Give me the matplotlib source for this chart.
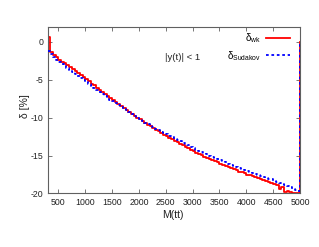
import numpy as np
import matplotlib
matplotlib.use("Agg")
import matplotlib.pyplot as plt
from matplotlib.lines import Line2D

plt.rcParams['font.family'] = ['Liberation Sans', 'DejaVu Sans']
plt.rcParams['axes.unicode_minus'] = False
plt.rcParams['mathtext.fontset'] = 'custom'
plt.rcParams['mathtext.rm'] = 'Liberation Sans'
plt.rcParams['mathtext.it'] = 'Liberation Sans:italic'

# bin edges of M(tt) in GeV
edges = np.arange(300, 5001, 50)

delta_wk = [0.6, -1.3, -1.7, -2.05, -2.35, -2.6, -2.85, -3.1, -3.35, -3.6,
            -3.85, -4.15, -4.4, -4.65, -4.95, -5.2, -5.5, -5.75, -6.05, -6.3,
            -6.6, -6.85, -7.15, -7.4, -7.65, -7.9, -8.2, -8.45, -8.7, -8.95,
            -9.25, -9.5, -9.75, -10.0, -10.2, -10.45, -10.7, -10.9, -11.15, -11.4,
            -11.6, -11.8, -12.05, -12.25, -12.45, -12.65, -12.85, -13.05, -13.25, -13.45,
            -13.65, -13.85, -14.05, -14.25, -14.45, -14.6, -14.8, -14.95, -15.15, -15.3,
            -15.45, -15.6, -15.75, -15.9, -16.05, -16.2, -16.35, -16.5, -16.65, -16.8,
            -16.95, -17.1, -17.2, -17.35, -17.5, -17.6, -17.75, -17.85, -18.0, -18.1,
            -18.25, -18.35, -18.5, -18.6, -18.75, -18.85, -19.35, -19.1, -19.75, -19.7,
            -19.8, -20.0, -20.0, -19.95]

delta_sudakov = [-1.2, -1.6, -2.05, -2.4, -2.7, -2.95, -3.2, -3.45, -3.7, -3.95,
                 -4.2, -4.5, -4.75, -5.0, -5.3, -5.55, -5.8, -6.05, -6.35, -6.6,
                 -6.9, -7.15, -7.4, -7.65, -7.85, -8.1, -8.35, -8.6, -8.85, -9.05,
                 -9.3, -9.55, -9.8, -10.0, -10.2, -10.45, -10.65, -10.85, -11.05, -11.25,
                 -11.45, -11.65, -11.85, -12.05, -12.2, -12.4, -12.6, -12.75, -12.95, -13.1,
                 -13.3, -13.5, -13.65, -13.85, -14.0, -14.2, -14.35, -14.5, -14.7, -14.85,
                 -15.0, -15.15, -15.3, -15.45, -15.6, -15.75, -15.9, -16.05, -16.2, -16.35,
                 -16.5, -16.6, -16.75, -16.9, -17.05, -17.15, -17.3, -17.4, -17.55, -17.65,
                 -17.8, -17.9, -18.05, -18.15, -18.3, -18.45, -18.6, -18.75, -18.9, -19.05,
                 -19.2, -19.4, -19.6, -19.7]

xticks = [500, 1000, 1500, 2000, 2500, 3000, 3500, 4000, 4500, 5000]
yticks = [0, -5, -10, -15, -20]

fig = plt.figure(figsize=(3.19, 2.47), dpi=100)
ax = fig.add_axes([0.1495, 0.2166, 0.7909, 0.6753])

# closing value 0 at the upper edge (histogram falls back to zero)
y_wk = list(delta_wk) + [0.0]
y_su = list(delta_sudakov) + [0.0]
ax.step(edges, y_wk, where='post', color='#ff0000', lw=1.3, zorder=2)
ax.step(edges, y_su, where='post', color='#0000ff', lw=1.3,
        linestyle=(0, (1.5, 1.5)), zorder=3)

ax.set_xlim(300, 5000)
ax.set_ylim(-20, 2)
ax.set_xticks(xticks)
ax.set_xticklabels([str(t) for t in xticks])
ax.set_yticks(yticks)
ax.set_yticklabels([str(t) for t in yticks])

for s in ax.spines.values():
    s.set_color('#606060')
    s.set_linewidth(0.8)
ax.tick_params(direction='in', length=3, width=0.6, color='#606060',
               top=True, right=True, labelsize=6.3, pad=3, labelcolor='#222222')

handles = [Line2D([], [], color='#ff0000', lw=1.3),
           Line2D([], [], color='#0000ff', lw=1.3, linestyle=(0, (1.5, 1.5)))]
labels = ['δ$_{\\mathrm{wk}}$', 'δ$_{\\mathrm{Sudakov}}$']
ax.legend(handles, labels, loc='upper right', bbox_to_anchor=(0.968, 0.985),
          frameon=False, markerfirst=False, fontsize=7.0, handlelength=2.5,
          handletextpad=0.45, labelspacing=0.4, borderpad=0.2, borderaxespad=0)

ax.text(0.465, 0.8165, '|y(t)| < 1', transform=ax.transAxes, fontsize=6.8,
        ha='left', va='center', color='#222222')

fig.text(25 / 319, 1 - 106 / 247, 'δ [%]', rotation=90, ha='center', va='center',
         fontsize=7.5, color='#222222')
fig.text(173 / 319, 1 - 215 / 247, 'M(tt)', ha='center', va='center',
         fontsize=7.5, color='#222222')

fig.savefig('out.png', dpi=100)
